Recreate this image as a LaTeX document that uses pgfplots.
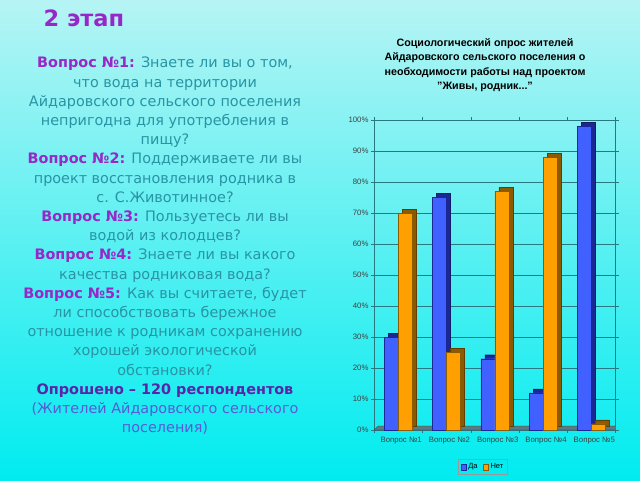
\documentclass[border=0pt]{standalone}
\usepackage{pgfplots}
\pgfplotsset{compat=1.18}
\usepackage{fontspec}
\setmainfont{Liberation Sans}
\newfontfamily\slidefont{DejaVu Sans}
\definecolor{bgtop}{RGB}{182,244,244}
\definecolor{bgbot}{RGB}{0,236,240}
\definecolor{hdpurple}{RGB}{150,40,200}
\definecolor{bodyteal}{RGB}{40,148,164}
\definecolor{darkpurple}{RGB}{88,36,168}
\definecolor{bluevio}{RGB}{90,90,214}
\definecolor{gridc}{RGB}{40,120,130}
\definecolor{bluefront}{RGB}{64,96,255}
\definecolor{blueside}{RGB}{26,40,150}
\definecolor{orfront}{RGB}{255,160,0}
\definecolor{orside}{RGB}{140,90,0}
\begin{document}
\begin{tikzpicture}[x=1pt,y=1pt]
\useasboundingbox (0,0) rectangle (640,480);
\shade[top color=bgtop,bottom color=bgbot] (0,0) rectangle (640,480);
% slide title
\node[anchor=west,font=\slidefont\bfseries\fontsize{22.5}{26}\selectfont,text=hdpurple] at (40,462) {2 этап};
% slide text
\node[align=center,font=\slidefont\fontsize{14.4}{19.2}\selectfont,text=bodyteal] at (165,234) {%
{\bfseries\color{hdpurple}Вопрос №1:} Знаете ли вы о том,\\
что вода на территории\\
Айдаровского сельского поселения\\
непригодна для употребления в\\
пищу?\\
{\bfseries\color{hdpurple}Вопрос №2:} Поддерживаете ли вы\\
проект восстановления родника в\\
с. С.Животинное?\\
{\bfseries\color{hdpurple}Вопрос №3:} Пользуетесь ли вы\\
водой из колодцев?\\
{\bfseries\color{hdpurple}Вопрос №4:} Знаете ли вы какого\\
качества родниковая вода?\\
{\bfseries\color{hdpurple}Вопрос №5:} Как вы считаете, будет\\
ли способствовать бережное\\
отношение к родникам сохранению\\
хорошей экологической\\
обстановки?\\
{\bfseries\color{darkpurple}Опрошено – 120 респондентов}\\
{\color{bluevio}(Жителей Айдаровского сельского}\\
{\color{bluevio}поселения)}};
% chart title
\node[align=center,font=\bfseries\fontsize{10.7}{14.3}\selectfont] at (485,415) {Социологический опрос жителей\\Айдаровского сельского поселения о\\необходимости работы над проектом\\\symbol{34}Живы, родник...\symbol{34}};
\begin{axis}[
  at={(374pt,50pt)}, anchor=south west,
  scale only axis, width=241.5pt, height=310pt,
  xmin=-0.5, xmax=4.5, ymin=0, ymax=100,
  ybar, bar width=14pt,
  axis line style={draw=gridc, line width=0.6pt},
  ytick={0,10,...,100},
  yticklabel={\pgfmathprintnumber{\tick}\%},
  /pgf/number format/assume math mode=true,
  ymajorgrids, grid style={draw=gridc, line width=0.6pt},
  xtick={0,1,2,3,4},
  xticklabels={Вопрос №1,Вопрос №2,Вопрос №3,Вопрос №4,Вопрос №5},
  minor xtick={-0.5,0.5,...,4.5},
  major x tick style={draw=none},
  minor x tick style={draw=gridc},
  tick align=outside, major tick length=3pt, minor tick length=3pt,
  y tick style={draw=gridc},
  tick label style={font=\fontsize{7.8}{8.5}\selectfont, text=black!75},
  y tick label style={xshift=1pt},
  x tick label style={yshift=-1pt,xshift=3pt},
  legend style={at={(0.451,-0.119)}, anchor=center, draw=gray!80, fill=none,
    font=\fontsize{7.5}{8}\selectfont, inner sep=2pt,
    legend columns=2, /tikz/every even column/.append style={column sep=3pt}},
]
\fill[gray!55!gridc, draw=gray!40!black, line width=0.3pt] (axis cs:-0.5,0) -- (axis cs:4.5,0) -- ([xshift=4pt,yshift=4pt]axis cs:4.5,0) -- ([xshift=4pt,yshift=4pt]axis cs:-0.5,0) -- cycle;
% depth (sides and tops)
\addplot[forget plot, fill=blueside, draw=blueside!70!black, line width=0.3pt, bar shift=-7pt, xshift=4pt, yshift=4pt]
  coordinates {(0,30) (1,75) (2,23) (3,12) (4,98)};
\addplot[forget plot, fill=orside, draw=orside!70!black, line width=0.3pt, bar shift=7pt, xshift=4pt, yshift=4pt]
  coordinates {(0,70) (1,25) (2,77) (3,88) (4,2)};
% fronts
\addplot[fill=bluefront, draw=blueside, line width=0.3pt, bar shift=-7pt,
  legend image code/.code={\fill[bluefront,draw=blueside] (0pt,-2.8pt) rectangle (5.6pt,2.8pt);}]
  coordinates {(0,30) (1,75) (2,23) (3,12) (4,98)};
\addplot[fill=orfront, draw=orside, line width=0.3pt, bar shift=7pt,
  legend image code/.code={\fill[orfront,draw=orside] (0pt,-2.8pt) rectangle (5.6pt,2.8pt);}]
  coordinates {(0,70) (1,25) (2,77) (3,88) (4,2)};
\legend{Да,Нет}
\end{axis}
\end{tikzpicture}
\end{document}
